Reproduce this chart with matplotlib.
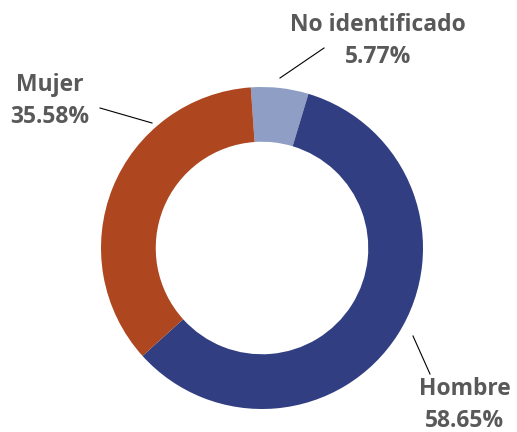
import matplotlib
matplotlib.use('Agg')
import matplotlib.pyplot as plt

# data
categorias = ['No identificado', 'Hombre', 'Mujer']
porcentajes = [5.77, 58.65, 35.58]
colores = ['#8E9EC4', '#313E81', '#AE461F']

# layout (pixels of the 517x432 picture)
W, H = 517, 432
cx, cy, R = 262, 248, 161

def px(x, y):
    # pixel -> data units of the pie axes
    return (x - cx) / R, (cy - y) / R

label_pos = {'No identificado': (378, 41), 'Hombre': (465, 405), 'Mujer': (50, 101)}
leader = {'No identificado': ((280, 78), (324, 48)),
          'Hombre': ((413, 336), (430, 374)),
          'Mujer': ((152, 123), (100, 108))}

fig = plt.figure(figsize=(W / 100, H / 100), dpi=100)
ax = fig.add_axes([0, 0, 1, 1])
ax.pie(porcentajes, colors=colores, startangle=94, counterclock=False,
       radius=1, wedgeprops=dict(width=0.34, edgecolor='none'))

for cat, val in zip(categorias, porcentajes):
    (x0, y0), (x1, y1) = leader[cat]
    a, b = px(x0, y0)
    c, d = px(x1, y1)
    ax.plot([a, c], [b, d], color='black', lw=0.8)
    tx, ty = px(*label_pos[cat])
    ax.text(tx, ty, '{}\n{:.2f}%'.format(cat, val), ha='center', va='center',
            fontsize=16.5, fontweight='bold', color='#595959', family='Open Sans',
            linespacing=1.4)

x_lo, y_hi = px(0, 0)
x_hi, y_lo = px(W, H)
ax.set_xlim(x_lo, x_hi)
ax.set_ylim(y_lo, y_hi)
ax.set_aspect('auto')
ax.axis('off')

plt.savefig('out.png', dpi=100)
